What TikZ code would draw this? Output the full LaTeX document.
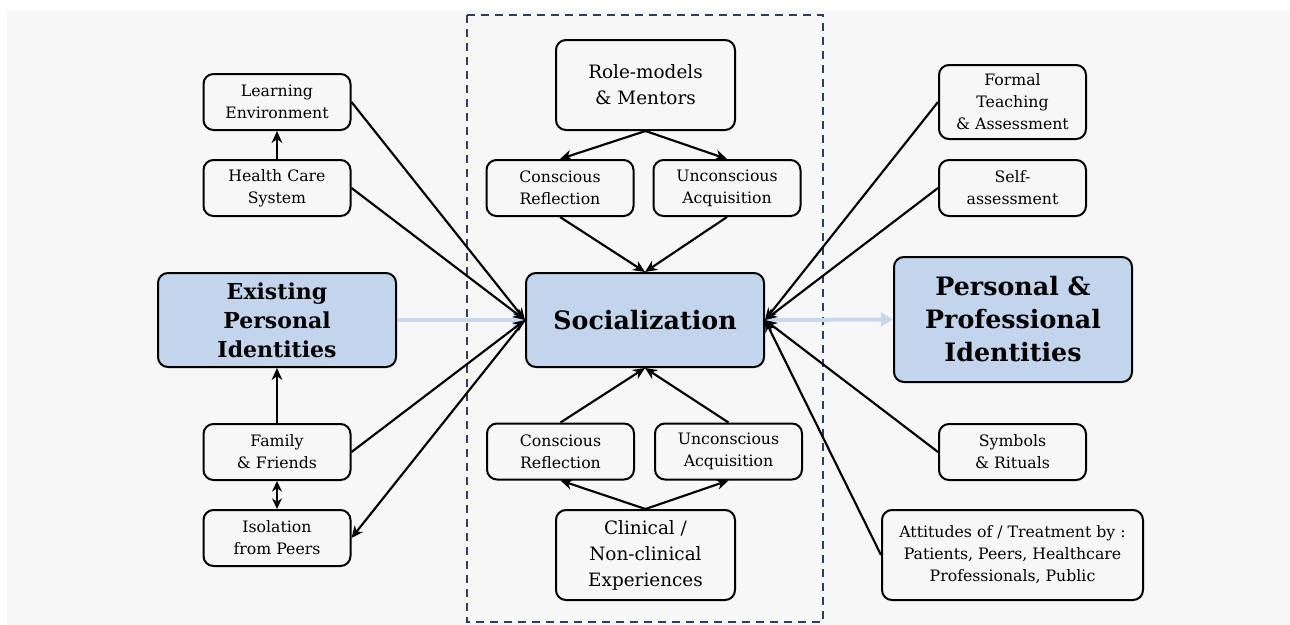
\documentclass[tikz,border=0pt]{standalone}
\usepackage{fontspec}
\setmainfont{DejaVu Serif}
\usetikzlibrary{arrows.meta}
\definecolor{bgg}{HTML}{F7F7F7}
\definecolor{boxblue}{HTML}{C2D5EC}
\definecolor{lblue}{HTML}{C5D8EE}
\definecolor{navy}{HTML}{2F3E5C}
\tikzset{
  box/.style={draw=black, line width=1.5pt, rounded corners=7.5pt, fill=bgg, align=center, inner sep=0pt,
     minimum width=110.25pt, minimum height=42pt, font=\fontsize{11.8}{16.5}\selectfont},
  midbox/.style={box, minimum width=134.25pt, minimum height=67.5pt, font=\fontsize{13.8}{19.5}\selectfont},
  bigbox/.style={box, fill=boxblue, minimum width=178.5pt, minimum height=70.5pt, font=\bfseries\fontsize{16.5}{21.75}\selectfont},
  arr/.style={draw=black, line width=1.6pt, -{Stealth[length=9pt,width=8pt]}},
  darr/.style={draw=black, line width=1.6pt, {Stealth[length=8pt,width=7.5pt]}-{Stealth[length=8pt,width=7.5pt]}},
  barr/.style={draw=lblue, line width=3pt, -{Triangle[length=9pt,width=10pt]}},
}
\begin{document}
\begin{tikzpicture}[x=0.75pt,y=-0.75pt]
\useasboundingbox (0,0) rectangle (1290,625);
\fill[white] (0,0) rectangle (1290,625);
\fill[bgg] (7,10) rectangle (1290,625);
\draw[navy, line width=1.5pt, dash pattern=on 6pt off 4.5pt] (467,15) rectangle (823,622);

% left column
\node[box] (le) at (277,102) {Learning\\Environment};
\node[box] (hcs) at (277,188) {Health Care\\System};
\node[bigbox] (epi) at (277,320) {Existing\\Personal\\Identities};
\node[box] (ff) at (277,452) {Family\\\& Friends};
\node[box] (iso) at (277,538) {Isolation\\from Peers};

% middle column
\node[midbox] (rm) at (645.5,85) {Role-models\\\& Mentors};
\node[box] (cr1) at (560,188) {Conscious\\Reflection};
\node[box] (ua1) at (727,188) {Unconscious\\Acquisition};
\node[bigbox, font=\bfseries\fontsize{19}{24}\selectfont] (soc) at (645,320) {Socialization};
\node[box] (cr2) at (560.5,451.5) {Conscious\\Reflection};
\node[box] (ua2) at (728.5,451.5) {Unconscious\\Acquisition};
\node[midbox] (cl) at (645.5,555) {Clinical /\\Non-clinical\\Experiences};

% right column
\node[box, minimum height=55.5pt] (ft) at (1012.5,102) {Formal\\Teaching\\\& Assessment};
\node[box] (sa) at (1012.5,188) {Self-\\assessment};
\node[bigbox, minimum height=93.75pt, font=\bfseries\fontsize{19}{24.75}\selectfont] (ppi) at (1013,319.5) {Personal \&\\Professional\\Identities};
\node[box] (sr) at (1012.5,452) {Symbols\\\& Rituals};
\node[box, minimum width=195.75pt, minimum height=67.5pt] (att) at (1012.5,555) {Attitudes of / Treatment by :\\Patients, Peers, Healthcare\\Professionals, Public};

% blue arrows
\draw[barr] (epi.east) -- (soc.west);
\draw[barr] (soc.east) -- (ppi.west);

% left arrows
\draw[arr] (hcs.north) -- (le.south);
\draw[arr] (ff.north) -- (epi.south);
\draw[darr] (ff.south) -- (iso.north);
\draw[arr] (le.east) -- (soc.west);
\draw[arr] (hcs.east) -- (soc.west);
\draw[arr] (ff.east) -- (soc.west);
\draw[arr] (soc.west) -- (iso.east);

% middle arrows
\draw[arr] (rm.south) -- (cr1.north);
\draw[arr] (rm.south) -- (ua1.north);
\draw[arr] (cr1.south) -- (soc.north);
\draw[arr] (ua1.south) -- (soc.north);
\draw[arr] (cl.north) -- (cr2.south);
\draw[arr] (cl.north) -- (ua2.south);
\draw[arr] (cr2.north) -- (soc.south);
\draw[arr] (ua2.north) -- (soc.south);

% right arrows
\draw[arr] (ft.west) -- (soc.east);
\draw[arr] (sa.west) -- (soc.east);
\draw[arr] (sr.west) -- (soc.east);
\draw[arr] (att.west) -- (soc.east);
\end{tikzpicture}
\end{document}
